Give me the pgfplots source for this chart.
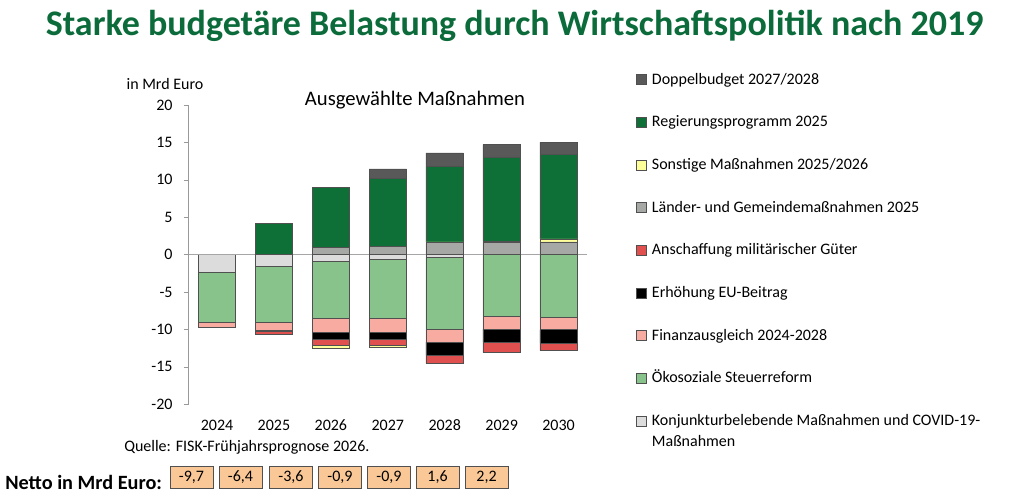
\documentclass[border=0pt]{standalone}
\usepackage{pgfplots}
\pgfplotsset{compat=1.18}
\usepackage{fontspec}
\setmainfont{Carlito}
\definecolor{cDoppel}{HTML}{595959}
\definecolor{cReg}{HTML}{0F7037}
\definecolor{cSonst}{HTML}{FFFF99}
\definecolor{cLaender}{HTML}{A5A8A5}
\definecolor{cMil}{HTML}{E0504F}
\definecolor{cEU}{HTML}{000000}
\definecolor{cFinanz}{HTML}{F8ABA0}
\definecolor{cOeko}{HTML}{87C38A}
\definecolor{cKonj}{HTML}{DCDCDC}
\definecolor{cTitle}{HTML}{0B6B3A}
\definecolor{cBox}{HTML}{FAC896}
\definecolor{cEdge}{HTML}{505050}

\pgfplotsset{
  mylegend/.style={legend image code/.code={\draw[##1,draw=cEdge,line width=0.4pt] (0pt,-3.4pt) rectangle (7.3pt,4.1pt);}},
  base/.style={
    scale only axis, width=298.9pt, height=224.5pt,
    at={(141.4pt,73.3pt)}, anchor=south west,
    xmin=-0.5, xmax=6.5, ymin=-20, ymax=20,
    ybar stacked, bar width=28.1pt,
    every axis plot/.append style={draw=cEdge, line width=0.4pt},
  },
}

\begin{document}
\begin{tikzpicture}
\useasboundingbox (0,0) rectangle (768pt,376.5pt);
\fontsize{12pt}{14pt}\selectfont

% Title
\node[font=\fontsize{27pt}{31pt}\selectfont\bfseries, text=cTitle] at (386pt,357pt) {Starke budgetäre Belastung durch Wirtschaftspolitik nach 2019};

% axes
\begin{axis}[base,
  axis lines*=left,
  x axis line style={draw=none},
  major x tick style={draw=none},
  y axis line style={draw=gray!80},
  ytick={-20,-15,...,20},
  major y tick style={draw=gray!80},
  tick align=outside, major tick length=3.75pt,
  xtick={0,...,6},
  xticklabels={2024,2025,2026,2027,2028,2029,2030},
  /pgf/number format/assume math mode=true,
  ticklabel style={font=\fontsize{12pt}{14pt}\selectfont},
  xticklabel style={yshift=-3.75pt},
  yticklabel style={xshift=-4pt},
]
\addplot[ybar=0pt, draw=none, fill=none, forget plot] coordinates {(0,0)};
\end{axis}

% negative stack
\begin{axis}[base, hide axis]
\addplot[draw=gray!70, line width=0.6pt, sharp plot, no marks, stack plots=false] coordinates {(-0.5,0) (6.5,0)};
% Konjunkturbelebende
\addplot[fill=cKonj] coordinates {(0,-2.35) (1,-1.5) (2,-0.85) (3,-0.65) (4,-0.3) (5,0) (6,0)};
% Oekosoziale
\addplot[fill=cOeko] coordinates {(0,-6.65) (1,-7.5) (2,-7.65) (3,-7.85) (4,-9.65) (5,-8.25) (6,-8.33)};
% Finanzausgleich
\addplot[fill=cFinanz] coordinates {(0,-0.7) (1,-1.15) (2,-1.83) (3,-1.84) (4,-1.7) (5,-1.7) (6,-1.7)};
% EU
\addplot[fill=cEU] coordinates {(0,0) (1,-0.05) (2,-0.95) (3,-0.98) (4,-1.8) (5,-1.75) (6,-1.8)};
% Militaer
\addplot[fill=cMil] coordinates {(0,0) (1,-0.4) (2,-0.8) (3,-0.8) (4,-1.1) (5,-1.4) (6,-1.0)};
% Sonstige (negative)
\addplot[fill=cSonst] coordinates {(0,0) (1,0) (2,-0.5) (3,-0.25) (4,0) (5,0) (6,0)};
\end{axis}

% positive stack + legend
\begin{axis}[base, hide axis,
  legend style={at={(axis description cs:1.123,1.115)}, anchor=north west,
    draw=none, fill=none, row sep=18pt, inner sep=0pt,
    font=\fontsize{12pt}{14pt}\selectfont,
    nodes={text height=9pt, text depth=3pt, inner sep=1pt},
    /tikz/every odd column/.append style={column sep=3pt}},
  legend cell align=left,
]
\addlegendimage{mylegend, fill=cDoppel}\addlegendentry{Doppelbudget 2027/2028}
\addlegendimage{mylegend, fill=cReg}\addlegendentry{Regierungsprogramm 2025}
\addlegendimage{mylegend, fill=cSonst}\addlegendentry{Sonstige Maßnahmen 2025/2026}
\addlegendimage{mylegend, fill=cLaender}\addlegendentry{Länder- und Gemeindemaßnahmen 2025}
\addlegendimage{mylegend, fill=cMil}\addlegendentry{Anschaffung militärischer Güter}
\addlegendimage{mylegend, fill=cEU}\addlegendentry{Erhöhung EU-Beitrag}
\addlegendimage{mylegend, fill=cFinanz}\addlegendentry{Finanzausgleich 2024-2028}
\addlegendimage{mylegend, fill=cOeko}\addlegendentry{Ökosoziale Steuerreform}
\addlegendimage{mylegend, fill=cKonj}\addlegendentry{\begin{tabular}[t]{@{}l@{}}Konjunkturbelebende Maßnahmen und COVID-19-\\[1.5pt]Maßnahmen\end{tabular}}
% Laender
\addplot[fill=cLaender] coordinates {(0,0) (1,0) (2,1.0) (3,1.1) (4,1.6) (5,1.65) (6,1.7)};
% Sonstige (positive)
\addplot[fill=cSonst] coordinates {(0,0) (1,0) (2,0) (3,0) (4,0.1) (5,0.1) (6,0.4)};
% Regierungsprogramm
\addplot[fill=cReg] coordinates {(0,0) (1,4.2) (2,7.96) (3,9.1) (4,10.1) (5,11.2) (6,11.3)};
% Doppelbudget
\addplot[fill=cDoppel] coordinates {(0,0) (1,0) (2,0) (3,1.26) (4,1.8) (5,1.75) (6,1.6)};
\end{axis}

% texts
\node at (123.75pt,313.5pt) {in Mrd Euro};
\node[font=\fontsize{15.5pt}{18pt}\selectfont] at (311.25pt,301.5pt) {Ausgewählte Maßnahmen};
\node[anchor=west, inner sep=0pt] at (93pt,41.25pt) {Quelle: FISK-Frühjahrsprognose 2026.};
\node[anchor=west, inner sep=0pt, font=\fontsize{15.2pt}{17pt}\selectfont\bfseries] at (3.75pt,15pt) {Netto in Mrd Euro:};
\foreach \x/\v in {191.5/{-9,7},240.5/{-6,4},291/{-3,6},340/{-0,9},389/{-0,9},437.5/{1,6},486.5/{2,2}}{
  \node[draw=cEdge, fill=cBox, minimum width=32.25pt, minimum height=16.5pt, inner sep=0pt, line width=0.5pt] at (\x*0.75pt,18.5pt) {\v};
}
\end{tikzpicture}
\end{document}
